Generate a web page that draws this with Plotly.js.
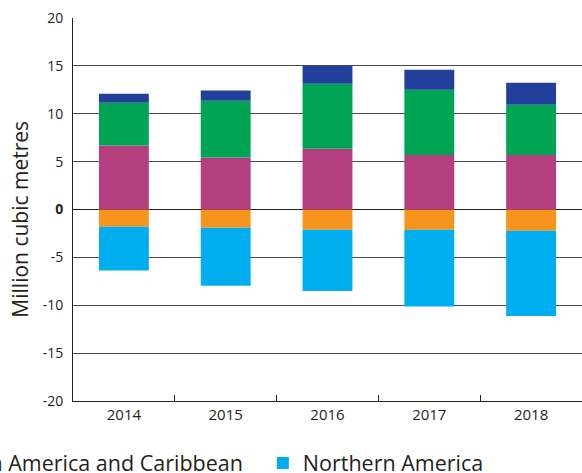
<!DOCTYPE html>
<html>
<head>
<meta charset="utf-8">
<script src="https://cdn.plot.ly/plotly-3.0.1.min.js"></script>
<style>html,body{margin:0;padding:0;background:#fff;}#chart{width:582px;height:473px;}</style>
</head>
<body>
<div id="chart"></div>
<script>
var years = ['2014', '2015', '2016', '2017', '2018'];
var magentaSeries = [6.69, 5.43, 6.34, 5.68, 5.68];
var greenSeries = [4.46, 5.93, 6.79, 6.83, 5.26];
var navySeries = [0.94, 1.07, 1.89, 2.09, 2.30];
var latinAmerica = [-1.81, -1.91, -2.12, -2.12, -2.23];
var northernAmerica = [-4.56, -6.06, -6.38, -8.02, -8.88];
var yTickVals = [20, 15, 10, 5, 0, -5, -10, -15, -20];
var yTickText = ['20', '15', '10', '5', '<b>0</b>', '-5', '-10', '-15', '-20'];

var FONT = 'Open Sans, Noto Sans, sans-serif';
var TXT = '#231f20';

function bar(name, y, color, show, leg) {
  var t = {type: 'bar', name: name, x: years, y: y, marker: {color: color, line: {width: 0}},
          showlegend: show, hoverinfo: 'none'};
  if (leg) t.legend = leg;
  return t;
}

var data = [
  bar('Latin America and Caribbean', latinAmerica, '#f7941d', true, 'legend'),
  bar('Northern America', northernAmerica, '#00aeef', true, 'legend2'),
  bar('Series A', magentaSeries, '#b33f7f', false),
  bar('Series B', greenSeries, '#00a455', false),
  bar('Series C', navySeries, '#22409a', false)
];

var legFont = {family: FONT, size: 21.5, color: TXT};

var layout = {
  width: 582, height: 473,
  barmode: 'relative',
  bargap: 0.51,
  margin: {l: 73, r: 0, t: 18, b: 72, autoexpand: false},
  paper_bgcolor: '#fff', plot_bgcolor: '#fff',
  font: {family: FONT, color: TXT, size: 14},
  xaxis: {
    type: 'category',
    showline: true, linecolor: '#231f20', linewidth: 1,
    ticks: 'inside', tickson: 'boundaries', ticklen: 6, tickcolor: '#231f20',
    showgrid: false, zeroline: false,
    tickfont: {family: FONT, size: 15, color: TXT},
    fixedrange: true
  },
  yaxis: {
    range: [-20, 20],
    tickvals: yTickVals, ticktext: yTickText,
    showline: true, linecolor: '#231f20', linewidth: 1,
    ticks: '', ticklabelstandoff: 6,
    showgrid: true, gridcolor: '#4a4a4a', gridwidth: 1,
    zeroline: true, zerolinecolor: '#231f20', zerolinewidth: 1,
    tickfont: {family: FONT, size: 14, color: TXT},
    fixedrange: true
  },
  annotations: [{
    text: 'Million cubic metres', textangle: -90,
    xref: 'paper', yref: 'paper', x: -0.103, y: 0.475,
    xanchor: 'center', yanchor: 'middle', showarrow: false,
    font: {family: FONT, size: 21, color: TXT}
  }],
  showlegend: true,
  legend: {
    orientation: 'h',
    xref: 'paper', yref: 'container',
    x: -0.314, xanchor: 'left',
    y: 0.021, yanchor: 'middle',
    font: legFont,
    bgcolor: 'rgba(0,0,0,0)'
  },
  legend2: {
    orientation: 'h',
    xref: 'paper', yref: 'container',
    x: 0.373, xanchor: 'left',
    y: 0.021, yanchor: 'middle',
    font: legFont,
    bgcolor: 'rgba(0,0,0,0)'
  }
};

Plotly.newPlot('chart', data, layout, {displayModeBar: false, staticPlot: true});
</script>
</body>
</html>
